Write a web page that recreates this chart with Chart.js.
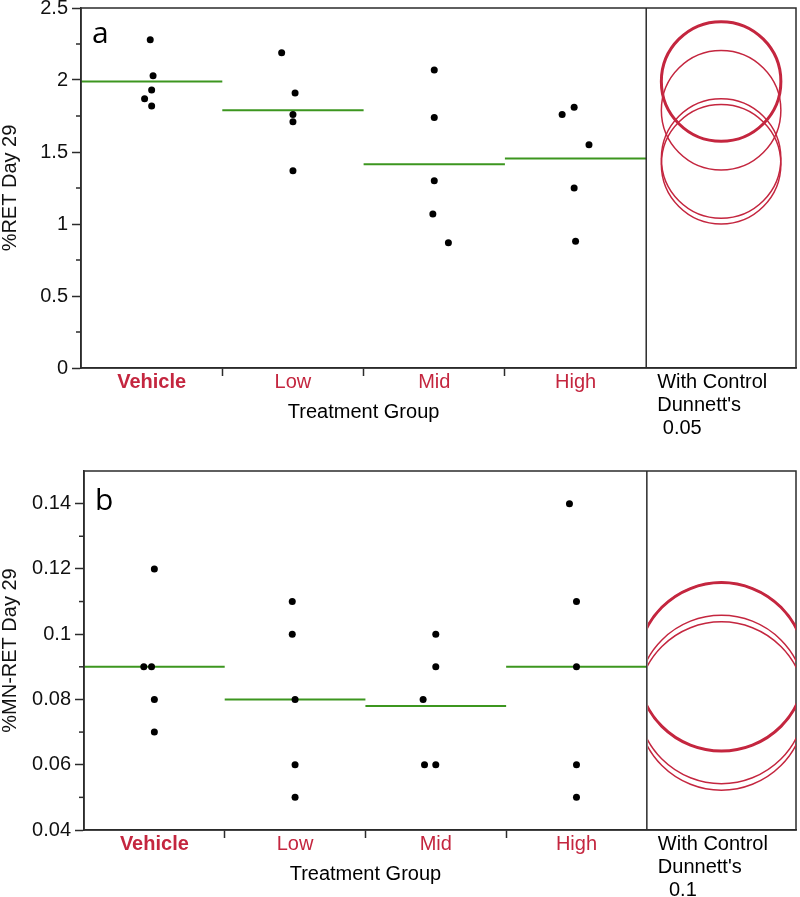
<!DOCTYPE html>
<html>
<head>
<meta charset="utf-8">
<title>%RET and %MN-RET Day 29</title>
<script src="https://cdn.jsdelivr.net/npm/chart.js@4.4.1/dist/chart.umd.min.js"></script>
<style>
  body { margin: 0; background: #fff; }
  canvas { display: block; }
</style>
</head>
<body>
<canvas id="chartA" width="800" height="450"></canvas>
<canvas id="chartB" width="800" height="447"></canvas>
<script>
const groups = ["Vehicle", "Low", "Mid", "High"];

// a: %RET Day 29 (one array per group, small x jitter as in the plot)
const retVehicle = [2.28, 2.03, 1.93, 1.87, 1.82];
const retLow = [2.19, 1.91, 1.76, 1.71, 1.37];
const retMid = [2.07, 1.74, 1.30, 1.07, 0.87];
const retHigh = [1.81, 1.76, 1.55, 1.25, 0.88];
const retJitter = [[-0.01, 0.01, 0, -0.05, 0], [-0.08, 0.015, 0, 0, 0], [0, 0, 0, -0.01, 0.1], [-0.01, -0.095, 0.095, -0.01, 0]];
const retMeans = [1.99, 1.79, 1.415, 1.455];
const retCircleRadius = 0.415;
const retTicks = [0, 0.5, 1, 1.5, 2, 2.5];
const retTickLabels = ["0", "0.5", "1", "1.5", "2", "2.5"];
const retMinorTicks = [0.25, 0.75, 1.25, 1.75, 2.25];

// b: %MN-RET Day 29
const mnVehicle = [0.12, 0.09, 0.09, 0.08, 0.07];
const mnLow = [0.11, 0.10, 0.08, 0.06, 0.05];
const mnMid = [0.10, 0.09, 0.08, 0.06, 0.06];
const mnHigh = [0.14, 0.11, 0.09, 0.06, 0.05];
const mnJitter = [[0, -0.075, -0.02, 0, 0], [-0.02, -0.02, 0, 0, 0], [0, 0, -0.09, -0.08, 0], [-0.05, 0, 0, 0, 0]];
const mnMeans = [0.09, 0.08, 0.078, 0.09];
const mnCircleRadius = 0.0258;
const mnTicks = [0.04, 0.06, 0.08, 0.1, 0.12, 0.14];
const mnTickLabels = ["0.04", "0.06", "0.08", "0.1", "0.12", "0.14"];
const mnMinorTicks = [0.05, 0.07, 0.09, 0.11, 0.13];

const xTickValues = [0.5, 1, 1.5, 2, 2.5, 3, 3.5];

const FONT = '"Liberation Sans", Arial, Helvetica, sans-serif';
const AXIS = "#2b2b2b";
const RED = "#c4263f";
const GREEN = "#3c961f";
const PANEL_START = 4;
const PANEL_CENTER = 4.53;
const X_MAX = 5.06;

function pointsFor(valueSets, jitterSets) {
  const pts = [];
  valueSets.forEach((vals, g) => {
    vals.forEach((v, i) => pts.push({ x: g + 0.5 + jitterSets[g][i], y: v }));
  });
  return pts;
}

function meanLines(means) {
  return means.map((m, g) => ({
    type: "line",
    data: [{ x: g, y: m }, { x: g + 1, y: m }],
    borderColor: GREEN,
    borderWidth: 2,
    pointRadius: 0,
    showLine: true,
  }));
}

// no extra room for the edge labels, the chart area is set by hand
function noPadding(s) {
  s.paddingTop = 0;
  s.paddingBottom = 0;
  s.paddingLeft = 0;
  s.paddingRight = 0;
}

// frame, minor ticks, Dunnett comparison circles and the extra texts
const panelPlugin = {
  id: "panel",
  afterDraw(chart, args, opts) {
    const { ctx, chartArea: a, scales } = chart;
    const x = scales.x, y = scales.y;
    const split = x.getPixelForValue(PANEL_START);
    ctx.save();
    ctx.strokeStyle = AXIS;
    ctx.lineWidth = 1.5;
    opts.minorTicks.forEach((v) => {
      const py = y.getPixelForValue(v);
      ctx.beginPath();
      ctx.moveTo(a.left - 5, py);
      ctx.lineTo(a.left, py);
      ctx.stroke();
    });
    ctx.strokeRect(a.left, a.top, a.right - a.left, a.bottom - a.top);
    ctx.beginPath();
    ctx.moveTo(split, a.top);
    ctx.lineTo(split, a.bottom);
    ctx.stroke();

    // circles, clipped to the right panel
    ctx.save();
    ctx.beginPath();
    ctx.rect(split + 1, a.top, a.right - split - 1, a.bottom - a.top);
    ctx.clip();
    const cx = x.getPixelForValue(PANEL_CENTER);
    const order = [1, 2, 3, 0];
    order.forEach((g) => {
      const m = opts.means[g];
      const cy = y.getPixelForValue(m);
      const r = Math.abs(y.getPixelForValue(m + opts.radius) - cy);
      ctx.strokeStyle = RED;
      ctx.lineWidth = g === 0 ? 3 : 1.5;
      ctx.beginPath();
      ctx.arc(cx, cy, r, 0, Math.PI * 2);
      ctx.stroke();
    });
    ctx.restore();

    // panel letter
    ctx.fillStyle = "#000";
    ctx.font = '30px "Open Sans", sans-serif';
    ctx.textAlign = "left";
    ctx.textBaseline = "alphabetic";
    ctx.fillText(opts.letter, a.left + 11, a.top + opts.letterDy);

    // axis title under the groups only
    ctx.font = "20px " + FONT;
    ctx.textAlign = "center";
    ctx.textBaseline = "middle";
    ctx.fillText("Treatment Group", (a.left + split) / 2, a.bottom + 44);

    // panel caption
    ctx.textAlign = "left";
    opts.caption.forEach((line, i) => {
      ctx.fillText(line, split + 11, a.bottom + 14 + i * 23);
    });
    ctx.restore();
  },
};

function makeChart(id, cfg) {
  const ctx = document.getElementById(id).getContext("2d");
  return new Chart(ctx, {
    type: "scatter",
    data: {
      datasets: [
        {
          data: pointsFor(cfg.values, cfg.jitter),
          backgroundColor: "#000",
          borderColor: "#000",
          pointRadius: 3.5,
          pointBorderWidth: 0,
        },
        ...meanLines(cfg.means),
      ],
    },
    options: {
      responsive: false,
      animation: false,
      layout: { padding: { top: cfg.padTop, right: cfg.padRight, left: 0, bottom: 0 } },
      plugins: {
        legend: { display: false },
        tooltip: { enabled: false },
        panel: {
          minorTicks: cfg.minorTicks,
          means: cfg.means,
          radius: cfg.radius,
          letter: cfg.letter,
          letterDy: cfg.letterDy,
          caption: cfg.caption,
        },
      },
      scales: {
        x: {
          type: "linear",
          min: 0,
          max: X_MAX,
          afterBuildTicks: (s) => { s.ticks = xTickValues.map((v) => ({ value: v })); },
          afterFit: (s) => { s.height = cfg.xHeight; noPadding(s); },
          grid: {
            drawOnChartArea: false,
            tickLength: 8,
            tickWidth: 1.5,
            tickColor: (c) => (c.tick && Number.isInteger(c.tick.value) ? AXIS : "rgba(0,0,0,0)"),
          },
          border: { color: AXIS, width: 1.5 },
          ticks: {
            autoSkip: false,
            maxRotation: 0,
            padding: -6,
            color: RED,
            font: (c) => ({
              family: FONT,
              size: 20,
              weight: c.tick && c.tick.value === 0.5 ? "bold" : "normal",
            }),
            callback: (v) => (Number.isInteger(v) ? "" : groups[Math.floor(v)]),
          },
        },
        y: {
          min: cfg.yMin,
          max: cfg.yMax,
          afterBuildTicks: (s) => { s.ticks = cfg.ticks.map((v) => ({ value: v })); },
          afterFit: (s) => { s.width = cfg.yWidth; noPadding(s); },
          grid: { drawOnChartArea: false, tickLength: 9, tickWidth: 1.5, tickColor: AXIS },
          border: { color: AXIS, width: 1.5 },
          ticks: {
            padding: 4,
            color: "#111",
            font: { family: FONT, size: 20 },
            callback: (v, i) => cfg.tickLabels[i],
          },
          title: {
            display: true,
            text: cfg.yTitle,
            color: "#111",
            font: { family: FONT, size: 20, lineHeight: 1 },
            padding: { top: 0, bottom: 0 },
          },
        },
      },
    },
    plugins: [panelPlugin],
  });
}

makeChart("chartA", {
  values: [retVehicle, retLow, retMid, retHigh],
  jitter: retJitter,
  means: retMeans,
  radius: retCircleRadius,
  ticks: retTicks,
  tickLabels: retTickLabels,
  minorTicks: retMinorTicks,
  yMin: 0,
  yMax: 2.5,
  yTitle: "%RET Day 29",
  letter: "a",
  letterDy: 35,
  caption: ["With Control", "Dunnett's", " 0.05"],
  padTop: 8,
  padRight: 4,
  yWidth: 81,
  xHeight: 82,
});

makeChart("chartB", {
  values: [mnVehicle, mnLow, mnMid, mnHigh],
  jitter: mnJitter,
  means: mnMeans,
  radius: mnCircleRadius,
  ticks: mnTicks,
  tickLabels: mnTickLabels,
  minorTicks: mnMinorTicks,
  yMin: 0.04,
  yMax: 0.15,
  yTitle: "%MN-RET Day 29",
  letter: "b",
  letterDy: 39,
  caption: ["With Control", "Dunnett's", "  0.1"],
  padTop: 21,
  padRight: 1,
  yWidth: 84,
  xHeight: 67,
});
</script>
</body>
</html>
